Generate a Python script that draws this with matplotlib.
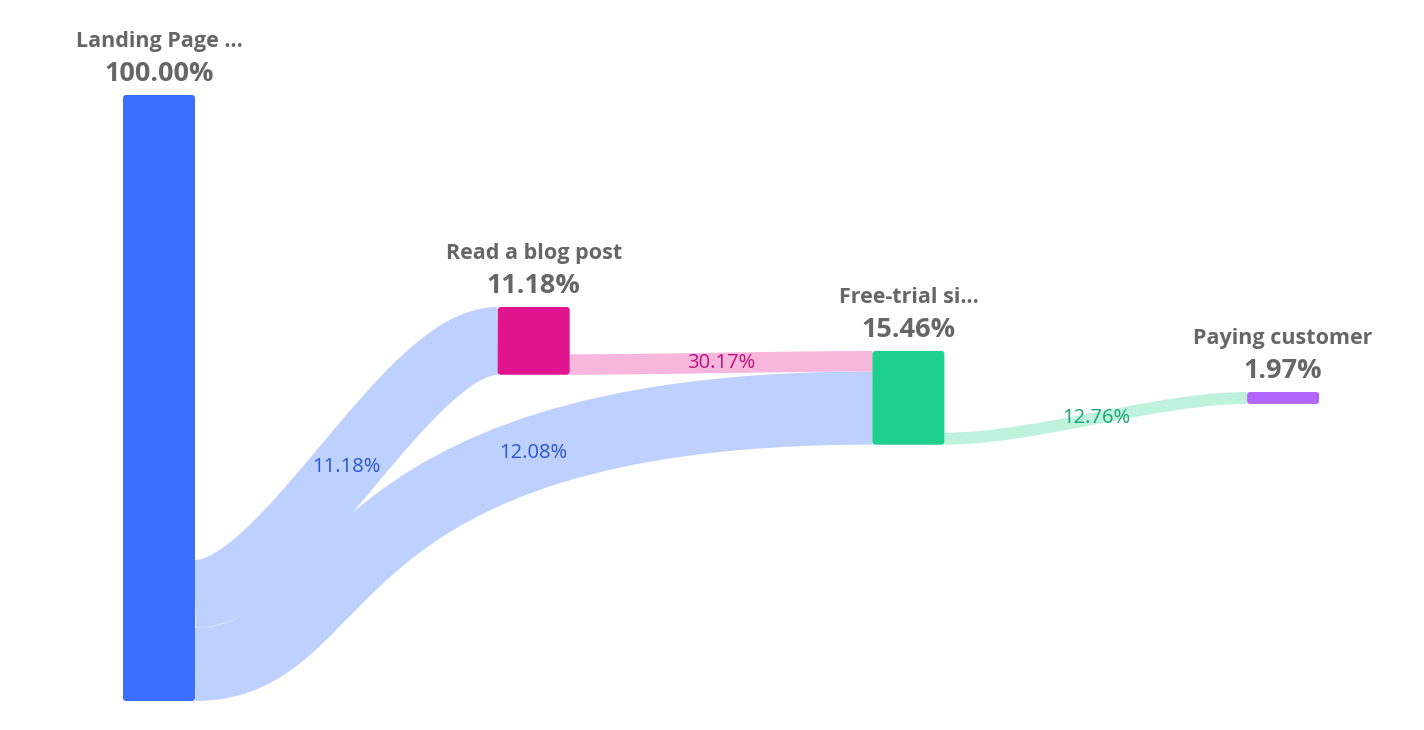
import numpy as np
import matplotlib
matplotlib.use("Agg")
import matplotlib.pyplot as plt
from matplotlib.path import Path
from matplotlib.patches import PathPatch, FancyBboxPatch

# dados do funil (percentuais)
node_names = ["Landing Page ...", "Read a blog post", "Free-trial si...", "Paying customer"]
node_pct = [100.00, 11.18, 15.46, 1.97]
link_source = [0, 0, 1, 2]
link_target = [1, 2, 2, 3]
link_pct = [11.18, 12.08, 30.17, 12.76]   # percentual relativo ao nó de origem

# estilo / layout
node_colors = ["#3B6EFF", "#E0148F", "#1DD08E", "#B266F9"]
link_colors = ["#BED1FE", "#BED1FE", "#F7B6DC", "#BFF2DD"]
label_colors = ["#2D55D2", "#2D55D2", "#BE1380", "#17A66F"]
node_col = [0, 1, 2, 3]
node_top = [95, 307, 351, 392]          # posição vertical (px)
handles = {1: (0.3, 0.3), 2: (0.24, 0.84)}   # alças da curva conforme nº de colunas
col_x0, col_step, node_w = 123, 374.7, 72
px_per_pct = 606 / 100.0
font = "Open Sans"

fig = plt.figure(figsize=(14.24, 7.3), dpi=100)
ax = fig.add_axes([0, 0, 1, 1])
ax.set_xlim(0, 1424)
ax.set_ylim(730, 0)
ax.axis("off")

# geometria dos nós
nx = [col_x0 + col_step * c for c in node_col]
nh = [p * px_per_pct for p in node_pct]
ncenter = [node_top[i] + nh[i] / 2 for i in range(len(node_pct))]

# largura absoluta de cada link
link_abs = [node_pct[s] * p / 100.0 for s, p in zip(link_source, link_pct)]

# empilhar saídas no fundo da origem e entradas no topo do destino
src_y = {}
for n in range(len(node_pct)):
    outs = [k for k in range(len(link_source)) if link_source[k] == n]
    outs.sort(key=lambda k: ncenter[link_target[k]])
    total = sum(link_abs[k] for k in outs) * px_per_pct
    y = node_top[n] + nh[n] - total
    for k in outs:
        w = link_abs[k] * px_per_pct
        src_y[k] = y + w / 2
        y += w
tgt_y = {}
for n in range(len(node_pct)):
    ins = [k for k in range(len(link_target)) if link_target[k] == n]
    ins.sort(key=lambda k: ncenter[link_source[k]])
    y = node_top[n]
    for k in ins:
        w = link_abs[k] * px_per_pct
        tgt_y[k] = y + w / 2
        y += w

tt = np.linspace(0, 1, 2001)
for k in range(len(link_source)):
    s, t = link_source[k], link_target[k]
    x0 = nx[s] + node_w
    x1 = nx[t]
    y0, y1 = src_y[k], tgt_y[k]
    a, b = handles[node_col[t] - node_col[s]]
    dx = x1 - x0
    pts = [(x0, y0), (x0 + a * dx, y0), (x1 - b * dx, y1), (x1, y1)]
    path = Path(pts, [Path.MOVETO, Path.CURVE4, Path.CURVE4, Path.CURVE4])
    w = link_abs[k] * px_per_pct
    ax.add_patch(PathPatch(path, fill=False, edgecolor=link_colors[k],
                           linewidth=w * 72 / 100, capstyle="butt", zorder=1))
    # rótulo no ponto da curva no meio em x
    P = np.array(pts)
    B = ((1 - tt) ** 3)[:, None] * P[0] + (3 * (1 - tt) ** 2 * tt)[:, None] * P[1] \
        + (3 * (1 - tt) * tt ** 2)[:, None] * P[2] + (tt ** 3)[:, None] * P[3]
    xm = (x0 + x1) / 2
    i = np.argmin(np.abs(B[:, 0] - xm))
    ax.text(xm, B[i, 1], f"{link_pct[k]:.2f}%", color=label_colors[k],
            fontsize=14.5, family=font, ha="center", va="center", zorder=4)

for n in range(len(node_pct)):
    ax.add_patch(FancyBboxPatch((nx[n], node_top[n]), node_w, nh[n],
                                boxstyle="round,pad=0,rounding_size=3",
                                facecolor=node_colors[n], edgecolor="none", zorder=3))
    cx = nx[n] + node_w / 2
    ax.text(cx, node_top[n] - 48, node_names[n], color="#666666", fontsize=15.5,
            fontweight="bold", family=font, ha="center", va="baseline")
    ax.text(cx, node_top[n] - 14, f"{node_pct[n]:.2f}%", color="#666666", fontsize=19.5,
            fontweight="bold", family=font, ha="center", va="baseline")

fig.savefig("out.png", dpi=100, facecolor="white")
